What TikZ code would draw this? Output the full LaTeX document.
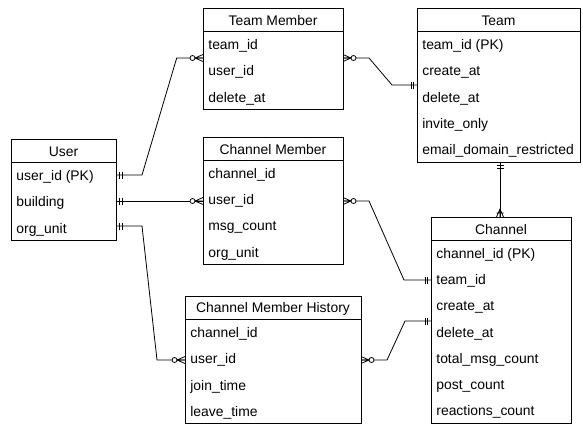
\documentclass[tikz,border=0pt]{standalone}
\usepackage{fontspec}
\setmainfont{Liberation Sans}
\begin{document}
\begin{tikzpicture}[x=1pt,y=-1pt,line width=0.8pt,
  tbl/.style={draw,rectangle,inner sep=0pt,outer sep=0pt,anchor=north west},
  hdr/.style={inner sep=0pt,anchor=center,font=\fontsize{13.9}{16}\selectfont},
  fld/.style={inner sep=0pt,anchor=west,font=\fontsize{13.9}{16}\selectfont},
  conn/.style={draw,line width=0.8pt}]
\useasboundingbox (0,0) rectangle (583,424);
\def\rh{26.2}
% entity macro: name, x, y, width, nrows, title
\newcommand\entity[6]{%
  \pgfmathsetmacro\hh{23+\rh*#5}%
  \node[tbl,minimum width=#4pt,minimum height=\hh pt] (#1) at (#2,#3) {};
  \draw ([yshift=-23pt]#1.north west) -- ([yshift=-23pt]#1.north east);
  \node[hdr] (#1-t) at ([yshift=-12.5pt]#1.north) {#6};
}
\newcommand\row[3]{% entity, index, text
  \node[fld] (#1-#2) at ([xshift=5pt,yshift={-25pt-\rh pt*(#2-0.5)}]#1.north west) {#3};
}
\newcommand\erOne[2]{\begin{scope}[shift={(#1)},rotate=#2]\draw (3.5,-3.5)--(3.5,3.5) (6,-3.5)--(6,3.5);\end{scope}}
\newcommand\erZeroMany[2]{\begin{scope}[shift={(#1)},rotate=#2]\draw (0,3.5)--(8,0)--(0,-3.5) (0,0)--(8,0);\draw[fill=white] (10.5,0) circle (2.5pt);\end{scope}}
\newcommand\erOneMany[2]{\begin{scope}[shift={(#1)},rotate=#2]\draw (0,3.5)--(8,0)--(0,-3.5) (0,0)--(8,0) (4,-3.5)--(4,3.5);\end{scope}}

\entity{tm}{203}{8}{140}{3}{Team Member}
\row{tm}{1}{team\_id}\row{tm}{2}{user\_id}\row{tm}{3}{delete\_at}

\entity{team}{417}{8}{163}{5}{Team}
\row{team}{1}{team\_id (PK)}\row{team}{2}{create\_at}\row{team}{3}{delete\_at}
\row{team}{4}{invite\_only}\row{team}{5}{email\_domain\_restricted}

\entity{user}{11}{139}{105}{3}{User}
\row{user}{1}{user\_id (PK)}\row{user}{2}{building}\row{user}{3}{org\_unit}

\entity{cm}{203}{137}{140}{4}{Channel Member}
\row{cm}{1}{channel\_id}\row{cm}{2}{user\_id}\row{cm}{3}{msg\_count}\row{cm}{4}{org\_unit}

\entity{cmh}{185}{296}{176}{4}{Channel Member History}
\row{cmh}{1}{channel\_id}\row{cmh}{2}{user\_id}\row{cmh}{3}{join\_time}\row{cmh}{4}{leave\_time}

\entity{ch}{431}{217}{140}{7}{Channel}
\row{ch}{1}{channel\_id (PK)}\row{ch}{2}{team\_id}\row{ch}{3}{create\_at}\row{ch}{4}{delete\_at}
\row{ch}{5}{total\_msg\_count}\row{ch}{6}{post\_count}\row{ch}{7}{reactions\_count}

% endpoints
\coordinate (u1) at (user.east |- 0,175);
\coordinate (tm1) at (tm.west |- 0,58);
\coordinate (tm2) at (tm.east |- 0,58);
\coordinate (t1) at (team.west |- 0,85);
\coordinate (u2) at (user.east |- 0,201);
\coordinate (cm1) at (cm.west |- 0,201);
\coordinate (cm2) at (cm.east |- 0,201);
\coordinate (ch1) at (ch.west |- 0,280);
\coordinate (t2) at (team.south -| 500,0);
\coordinate (ch2) at (ch.north -| 500,0);
\coordinate (u3) at (user.east |- 0,226);
\coordinate (h1) at (cmh.west |- 0,360);
\coordinate (h2) at (cmh.east |- 0,360);
\coordinate (ch3) at (ch.west |- 0,321);

\draw[conn] (u1) -- ++(26,0) -- (176.7,58) -- (tm1);
\draw[conn] (tm2) -- ++(26,0) -- (392,85) -- (t1);
\draw[conn] (u2) -- (cm1);
\draw[conn] (cm2) -- ++(26,0) -- (404,280) -- (ch1);
\draw[conn] (t2) -- (ch2);
\draw[conn] (u3) -- ++(26,0) -- (157,360) -- (h1);
\draw[conn] (h2) -- ++(26,0) -- (405,321) -- (ch3);

\erOne{u1}{0}\erZeroMany{tm1}{180}
\erZeroMany{tm2}{0}\erOne{t1}{180}
\erOne{u2}{0}\erZeroMany{cm1}{180}
\erZeroMany{cm2}{0}\erOne{ch1}{180}
\erOne{t2}{-90}\erOneMany{ch2}{90}
\erOne{u3}{0}\erZeroMany{h1}{180}
\erZeroMany{h2}{0}\erOne{ch3}{180}
\end{tikzpicture}
\end{document}
